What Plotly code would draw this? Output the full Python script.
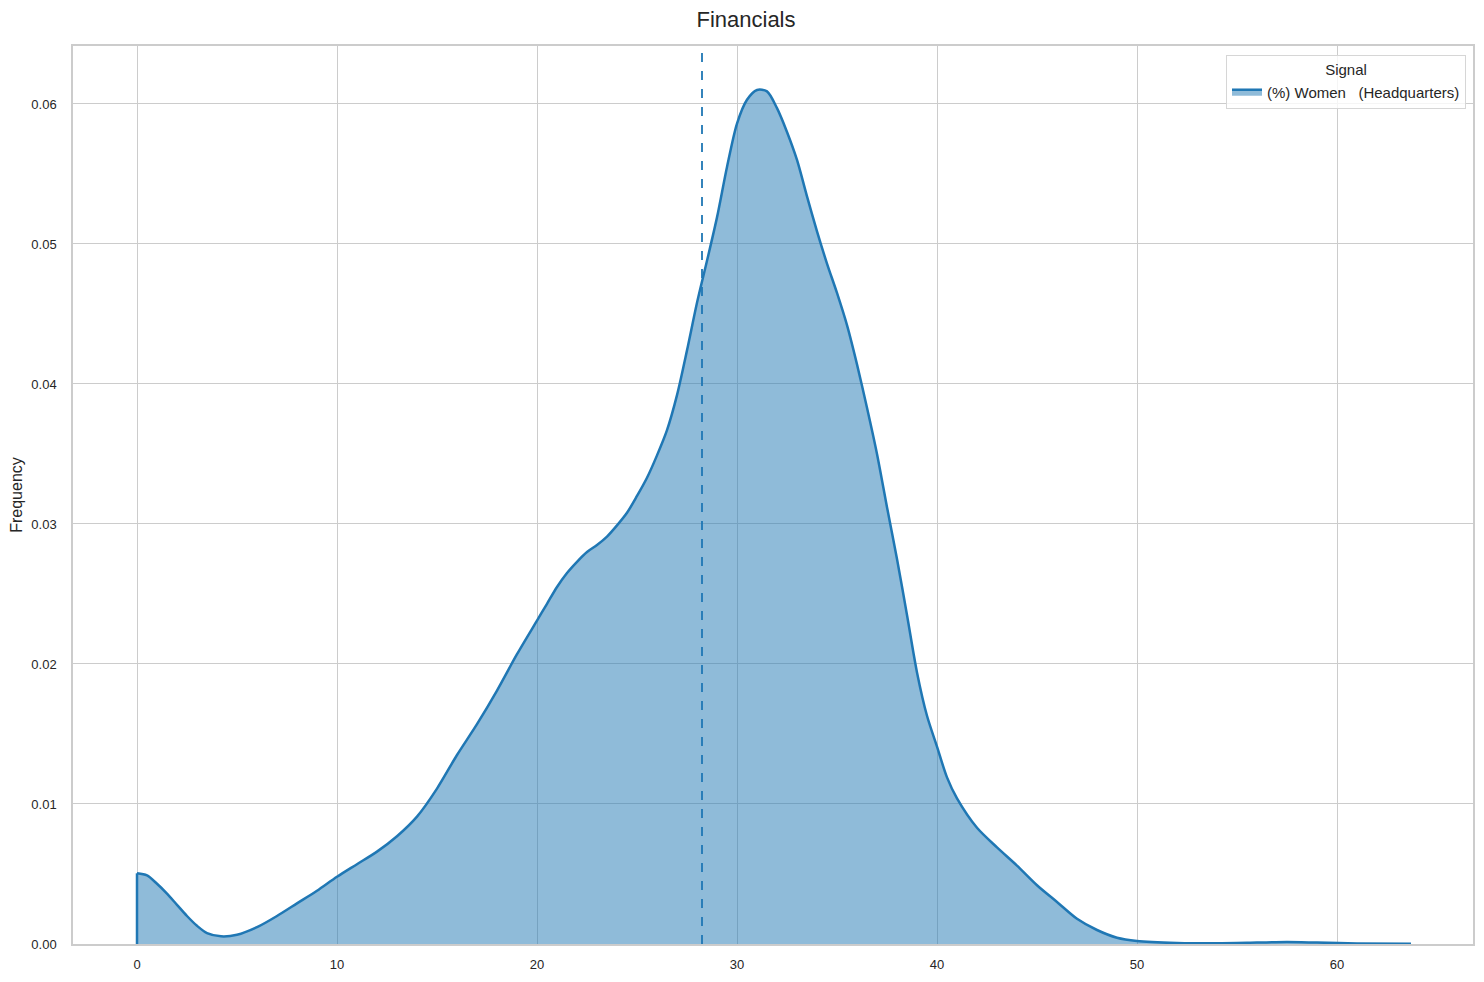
import plotly.graph_objects as go

# Density estimate of "(%) Women (Headquarters)"
pct_women = [0.0, 0.5, 1.0, 1.5, 2.0, 2.5, 3.0, 3.5, 4.2, 5.0, 6.0, 7.0, 8.0, 9.0,
             10.0, 11.0, 12.0, 13.0, 14.0, 15.0, 16.0, 17.0, 18.0, 19.0, 20.0,
             20.5, 21.0, 21.5, 22.0, 22.5, 23.0, 23.5, 24.0, 24.5, 25.0, 25.5, 26.0,
             26.5, 27.0, 27.5, 28.0, 28.5, 29.0, 29.5, 30.0, 30.5, 31.0, 31.5, 32.0,
             32.5, 33.0, 33.5, 34.0, 34.5, 35.0, 35.5, 36.0, 36.5, 37.0, 37.5, 38.0,
             38.5, 39.0, 39.5, 40.0, 40.5, 41.0, 42.0, 43.0, 44.0, 45.0, 46.0, 47.0,
             48.0, 49.0, 50.0, 52.0, 54.0, 56.0, 57.5, 59.0, 61.0, 63.7]
density = [0.00505, 0.0049, 0.0043, 0.0036, 0.0028, 0.0020, 0.0013, 0.00078,
           0.00055, 0.00066, 0.0012, 0.0020, 0.0029, 0.0038, 0.0048, 0.0057, 0.0066,
           0.0077, 0.0091, 0.0111, 0.0135, 0.0157, 0.0181, 0.0207, 0.0231,
           0.0243, 0.0255, 0.0265, 0.0273, 0.0280, 0.0285, 0.0291, 0.0299, 0.0308,
           0.0320, 0.0333, 0.0349, 0.0367, 0.0392, 0.0424, 0.0458, 0.0488, 0.0519,
           0.0555, 0.0586, 0.0603, 0.0610, 0.0609, 0.0597, 0.0580, 0.0560, 0.0534,
           0.0509, 0.0486, 0.0465, 0.0442, 0.0414, 0.0383, 0.0350, 0.0312, 0.0275,
           0.0235, 0.0194, 0.0163, 0.0141, 0.0119, 0.0104, 0.0083, 0.0069, 0.0056,
           0.0042, 0.0030, 0.0018, 0.0010, 0.00045, 0.00022, 0.00008, 0.00005,
           0.00010, 0.00014, 0.00010, 0.00004, 0.00001]
mean_pct = 28.25

x_ticks = [0, 10, 20, 30, 40, 50, 60]
y_ticks = [0.0, 0.01, 0.02, 0.03, 0.04, 0.05, 0.06]

BLUE = "#1f77b4"
FONT = "Liberation Sans, Arial, sans-serif"

fig = go.Figure()
fig.add_trace(go.Scatter(
    x=pct_women, y=density,
    mode="lines",
    line=dict(color=BLUE, width=2.5, shape="spline", smoothing=0.8),
    fill="tozeroy",
    fillcolor="rgba(31,119,180,0.5)",
    name="(%) Women\u00a0\u00a0 (Headquarters)",
))
# left edge of the filled density (cut at the lowest observed value)
fig.add_trace(go.Scatter(
    x=[pct_women[0], pct_women[0]], y=[0, density[0]],
    mode="lines", line=dict(color=BLUE, width=2.5),
    showlegend=False, hoverinfo="skip",
))

# mean marker
fig.add_vline(x=mean_pct, line=dict(color=BLUE, width=1.8, dash="dash"))

# page body has an 8px margin, so the figure is sized to fit inside it
fig.update_layout(
    width=1476, height=974,
    margin=dict(l=65, r=11, t=38, b=38),
    paper_bgcolor="white", plot_bgcolor="white",
    font=dict(family=FONT, size=13, color="#262626"),
    title=dict(text="Financials", x=0.5, xref="container", y=0.9887, yanchor="middle",
               font=dict(size=22, color="#262626")),
    showlegend=True,
    legend=dict(
        x=0.995, y=0.99, xanchor="right", yanchor="top",
        bgcolor="rgba(255,255,255,0.8)", bordercolor="#d6d6d6", borderwidth=1,
        title=dict(text="Signal", side="top center", font=dict(size=15)),
        font=dict(size=15),
    ),
)
fig.update_xaxes(
    range=[-3.2, 66.8], tickvals=x_ticks, automargin=False,
    showgrid=True, gridcolor="#cccccc", gridwidth=1,
    showline=True, linecolor="#cccccc", linewidth=1.5, mirror=True,
    zeroline=False, ticks="", ticklabelstandoff=8,
)
fig.update_yaxes(
    range=[0, 0.06414], tickvals=y_ticks, tickformat=".2f", automargin=False,
    showgrid=True, gridcolor="#cccccc", gridwidth=1,
    showline=True, linecolor="#cccccc", linewidth=1.5, mirror=True,
    zeroline=False, ticks="", ticklabelstandoff=12,
    title=dict(text="Frequency", font=dict(size=16), standoff=10),
)

fig.write_html("out.html")
